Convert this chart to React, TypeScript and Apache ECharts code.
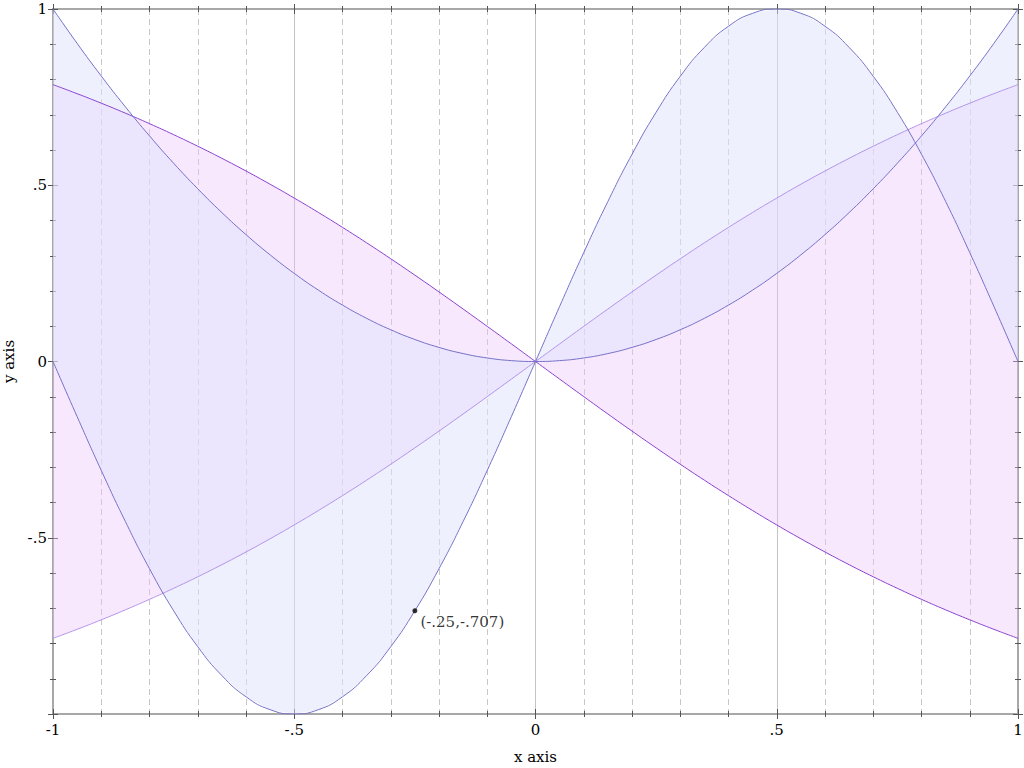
import React, { useEffect, useRef } from "react";
import * as echarts from "echarts";

// sampled x values on the right half (the functions are odd/even, mirrored below)
const xHalf = [0, 0.05, 0.1, 0.15, 0.2, 0.25, 0.3, 0.35, 0.4, 0.45, 0.5, 0.55, 0.6, 0.65, 0.7, 0.75, 0.8, 0.85, 0.9, 0.95, 1];
// sin(pi x) — odd
const sinHalf = [0, 0.1564, 0.309, 0.454, 0.5878, 0.7071, 0.809, 0.891, 0.9511, 0.9877, 1, 0.9877, 0.9511, 0.891, 0.809, 0.7071, 0.5878, 0.454, 0.309, 0.1564, 0];
// x^2 — even
const sqHalf = [0, 0.0025, 0.01, 0.0225, 0.04, 0.0625, 0.09, 0.1225, 0.16, 0.2025, 0.25, 0.3025, 0.36, 0.4225, 0.49, 0.5625, 0.64, 0.7225, 0.81, 0.9025, 1];
// atan(x) — odd
const atanHalf = [0, 0.04996, 0.09967, 0.14889, 0.1974, 0.24498, 0.29146, 0.33667, 0.38051, 0.42285, 0.46365, 0.50285, 0.54042, 0.57638, 0.61073, 0.6435, 0.67474, 0.70449, 0.73282, 0.75976, 0.7854];

const pointX = -0.25;
const pointY = -0.707;
const pointLabel = "(-.25,-.707)";

const mirrorOdd = (a: number[]) => [...a.slice(1).reverse().map((v) => -v), ...a];
const mirrorEven = (a: number[]) => [...a.slice(1).reverse(), ...a];

const xs = mirrorOdd(xHalf);
const sinY = mirrorOdd(sinHalf);
const sqY = mirrorEven(sqHalf);
const atanY = mirrorOdd(atanHalf);
const negAtanY = atanY.map((v) => -v);

const fmt = (v: number) => {
  if (v === 0) return "0";
  let s = String(Math.round(v * 100) / 100);
  s = s.replace("0.", ".");
  return s;
};

const FONT = "DejaVu Serif";
const FS = 15;
const AXIS_COLOR = "#a8a8a8";
const TICK_COLOR = "#555";

function makeAxis(kind: "x" | "y", position: string, inside: boolean, labels: boolean, grid: boolean) {
  return {
    type: "value",
    position,
    min: -1,
    max: 1,
    interval: 0.5,
    name: labels ? (kind === "x" ? "x axis" : "y axis") : "",
    nameLocation: "middle",
    nameGap: 35,
    nameTextStyle: { fontFamily: FONT, fontSize: FS, color: "#000" },
    axisLine: { show: true, onZero: false, lineStyle: { color: AXIS_COLOR, width: 2 } },
    axisTick: { show: true, inside, length: 5, lineStyle: { color: TICK_COLOR, width: 1 } },
    minorTick: { show: true, splitNumber: 5, length: 3, lineStyle: { color: TICK_COLOR, width: 1 } },
    axisLabel: {
      show: labels,
      showMinLabel: kind === "x",
      formatter: (v: number) => fmt(v),
      fontFamily: FONT,
      fontSize: FS,
      color: "#000",
      margin: kind === "x" ? 8 : 6,
    },
    splitLine: { show: grid, lineStyle: { color: "#c4c4c4", width: 1 } },
    minorSplitLine: { show: grid, lineStyle: { color: "#c8c8c8", width: 1, type: [6, 4] } },
  };
}

function fillSeries(lo: number[], hi: number[], color: string, z: number) {
  return {
    type: "custom",
    xAxisIndex: 0,
    yAxisIndex: 0,
    silent: true,
    z,
    data: [[0, 0]],
    renderItem: (_params: any, api: any) => {
      const pts: number[][] = [];
      for (let i = 0; i < xs.length; i++) pts.push(api.coord([xs[i], lo[i]]));
      for (let i = xs.length - 1; i >= 0; i--) pts.push(api.coord([xs[i], hi[i]]));
      return { type: "polygon", shape: { points: pts }, style: { fill: color, stroke: "none" } };
    },
  };
}

function lineSeries(ys: number[], color: string, z: number) {
  return {
    type: "line",
    xAxisIndex: 0,
    yAxisIndex: 0,
    data: xs.map((x, i) => [x, ys[i]]),
    showSymbol: false,
    smooth: true,
    silent: true,
    z,
    lineStyle: { color, width: 1 },
  };
}

export default function App() {
  const ref = useRef<HTMLDivElement>(null);
  useEffect(() => {
    if (!ref.current) return;
    const chart = echarts.init(ref.current, null, { renderer: "svg" });
    chart.setOption({
      animation: false,
      textStyle: { fontFamily: FONT },
      grid: { left: 53, right: 6, top: 9, bottom: 54, containLabel: false, outerBoundsMode: "none" },
      xAxis: [
        makeAxis("x", "bottom", false, true, true),
        makeAxis("x", "bottom", true, false, false),
        makeAxis("x", "top", false, false, false),
        makeAxis("x", "top", true, false, false),
      ],
      yAxis: [
        makeAxis("y", "left", false, true, false),
        makeAxis("y", "left", true, false, false),
        makeAxis("y", "right", false, false, false),
        makeAxis("y", "right", true, false, false),
      ],
      series: [
        fillSeries(atanY, negAtanY, "rgba(236,194,250,0.375)", 2),
        fillSeries(sqY, sinY, "rgba(221,225,253,0.5)", 3),
        lineSeries(atanY, "#b493ea", 5),
        lineSeries(negAtanY, "#8a42d0", 5),
        lineSeries(sinY, "#7672c8", 6),
        lineSeries(sqY, "#7672c8", 6),
        {
          type: "scatter",
          xAxisIndex: 0,
          yAxisIndex: 0,
          data: [[pointX, pointY]],
          symbolSize: 5,
          z: 10,
          silent: true,
          itemStyle: { color: "#000" },
          label: {
            show: true,
            position: "right",
            offset: [-2, 11],
            formatter: () => pointLabel,
            fontFamily: FONT,
            fontSize: FS,
            color: "#000",
          },
        },
      ],
    });
    return () => chart.dispose();
  }, []);
  return <div ref={ref} style={{ position: "absolute", left: 0, top: 0, width: 1024, height: 768 }} />;
}
